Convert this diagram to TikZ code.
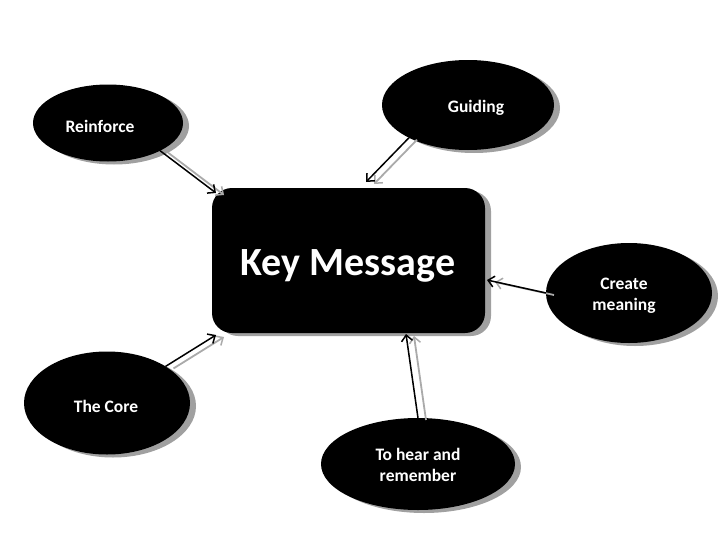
\documentclass[tikz,border=0pt]{standalone}
\usepackage{fontspec}
\setmainfont{Carlito}
\usetikzlibrary{shapes.geometric,arrows.meta,shadows}
\definecolor{shade}{RGB}{160,160,160}
\definecolor{ashade}{RGB}{170,170,170}
\begin{document}
\begin{tikzpicture}[x=1pt,y=-1pt,
  sh/.style={drop shadow={shadow xshift=6pt,shadow yshift=-3pt,fill=shade,opacity=1}},
  bubble/.style={ellipse,fill=black,draw=none,inner sep=0pt,outer sep=0pt,sh},
  lbl/.style={text=white,font=\bfseries\fontsize{17.5}{21}\selectfont,align=center,inner sep=0pt},
  conn/.style={line width=1.5pt,-{Straight Barb[length=6pt,width=11pt,line width=1.5pt]}},
  connsh/.style={conn,ashade,line width=1.8pt,transform canvas={xshift=8pt,yshift=-2pt}}]
\useasboundingbox (0,0) rectangle (728,546);
% central box
\node[rectangle,rounded corners=20pt,fill=black,minimum width=273pt,minimum height=145pt,inner sep=0pt,sh] (key) at (348.5,260.5) {};
\node[text=white,font=\bfseries\fontsize{40}{48}\selectfont,inner sep=0pt] (keyt) at (348,266) {Key Message};
% bubbles
\node[bubble,minimum width=150pt,minimum height=77pt] (reinf) at (108,123) {};
\node[bubble,minimum width=172pt,minimum height=90pt] (guid) at (468,105) {};
\node[bubble,minimum width=166pt,minimum height=100pt] (create) at (629,293) {};
\node[bubble,minimum width=166pt,minimum height=103pt] (core) at (107,403) {};
\node[bubble,minimum width=194pt,minimum height=92pt] (hear) at (418,464) {};
% labels
\node[lbl] (reinft) at (100,126) {Reinforce};
\node[lbl] (guidt) at (476,108) {Guiding};
\node[lbl] (createt) at (624,296) {Create\\meaning};
\node[lbl] (coret) at (106,406) {The Core};
\node[lbl] (heart) at (418,465) {To hear and\\remember};
% arrow end points
\coordinate (e1) at (216,193);
\coordinate (e2) at (366,182);
\coordinate (e3) at (487,280);
\coordinate (e4) at (216,335);
\coordinate (e5) at (406,334);
% shadows of arrows
\draw[connsh] (reinf.-28) -- (e1);
\draw[connsh] (guid.209) -- (e2);
\draw[connsh] (create.west) -- (e3);
\draw[connsh] (core.32) -- (e4);
\draw[connsh] (hear.north) -- (e5);
% arrows
\draw[conn] (reinf.-28) -- (e1);
\draw[conn] (guid.209) -- (e2);
\draw[conn] (create.west) -- (e3);
\draw[conn] (core.32) -- (e4);
\draw[conn] (hear.north) -- (e5);
\end{tikzpicture}
\end{document}
